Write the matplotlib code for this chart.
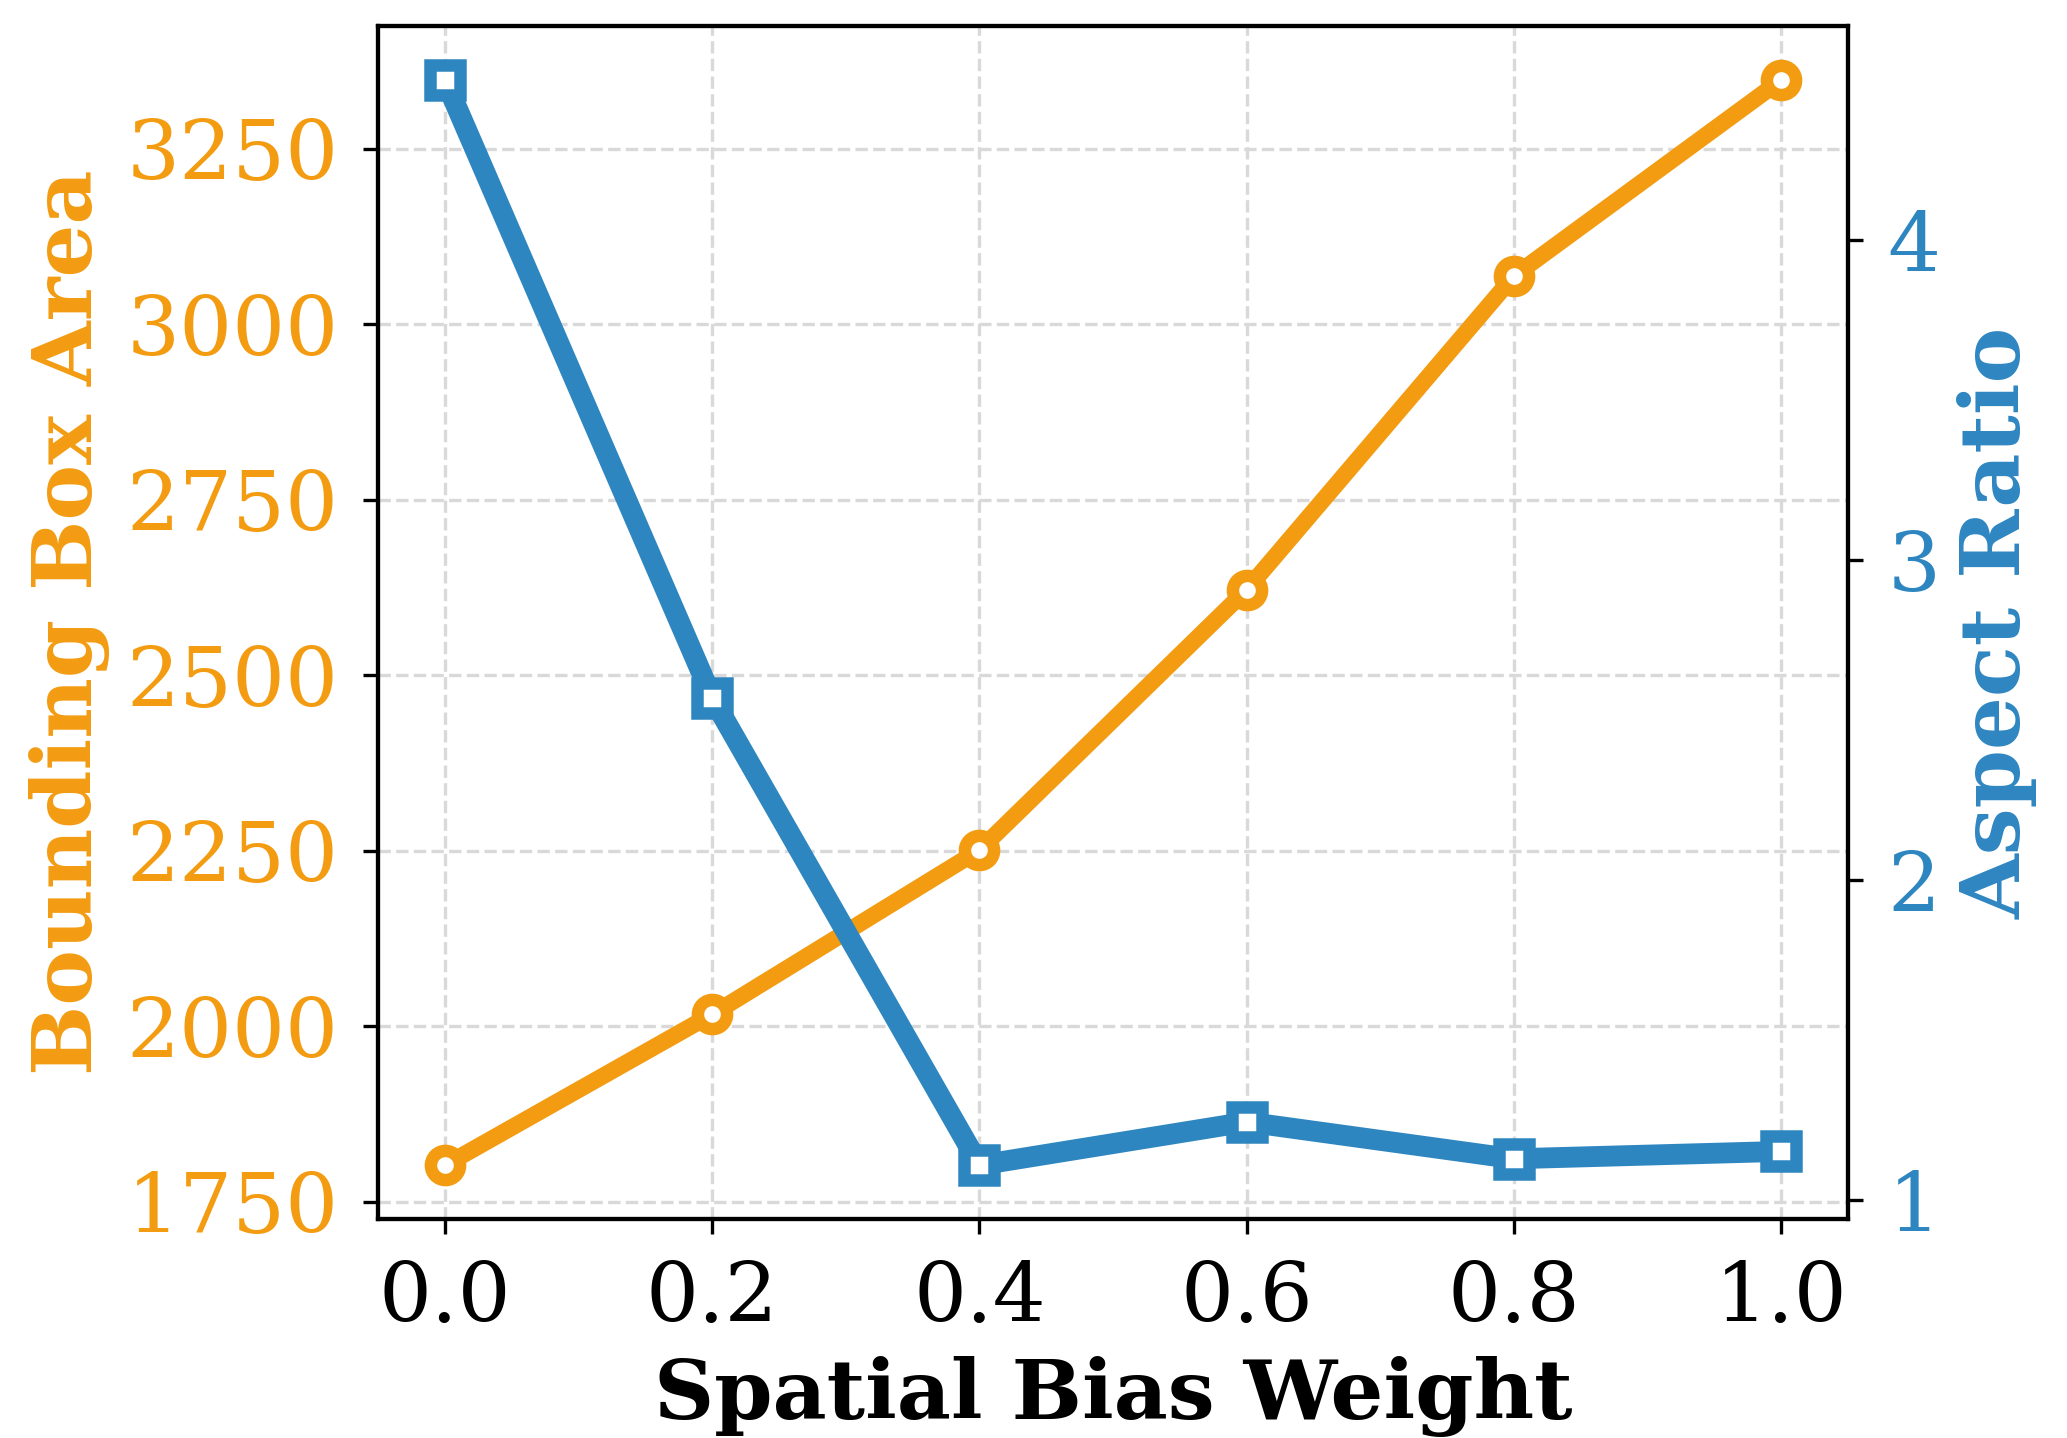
import matplotlib
matplotlib.use("Agg")
import matplotlib.pyplot as plt

plt.rcParams["font.family"] = "DejaVu Serif"
plt.rcParams["font.size"] = 20
plt.rcParams["axes.linewidth"] = 1.0

weights = [0.0, 0.2, 0.4, 0.6, 0.8, 1.0]
bbox_area = [1802, 2017, 2251, 2622, 3069, 3348]
aspect_ratio = [4.50, 2.57, 1.11, 1.245, 1.13, 1.153]

orange = "#F39C12"
blue = "#2E86C1"

fig = plt.figure(figsize=(2067 / 300, 1438 / 300), dpi=300)
ax1 = fig.add_axes([0.183, 0.152, 0.711, 0.830])

ax1.plot(weights, bbox_area, color=orange, lw=4, marker="o", ms=7,
         mfc="white", mec=orange, mew=3, zorder=3)
ax1.set_yticks([1750, 2000, 2250, 2500, 2750, 3000, 3250])
ax1.set_xticks(weights)
ax1.set_xlabel("Spatial Bias Weight", fontweight="bold")
ax1.set_ylabel("Bounding Box Area", fontweight="bold", color=orange)
ax1.tick_params(axis="both", pad=6)
ax1.tick_params(axis="y", labelcolor=orange, color="black")
ax1.grid(True, linestyle="--", color="#d9d9d9", lw=0.8)
ax1.set_axisbelow(True)

ax2 = ax1.twinx()
ax2.plot(weights, aspect_ratio, color=blue, lw=5, marker="s", ms=7,
         mfc="white", mec=blue, mew=3, zorder=3)
ax2.set_yticks([1, 2, 3, 4])
ax2.set_ylabel("Aspect Ratio", fontweight="bold", color=blue)
ax2.tick_params(axis="y", labelcolor=blue, color="black", pad=6)

fig.savefig("out.png", dpi=300)
